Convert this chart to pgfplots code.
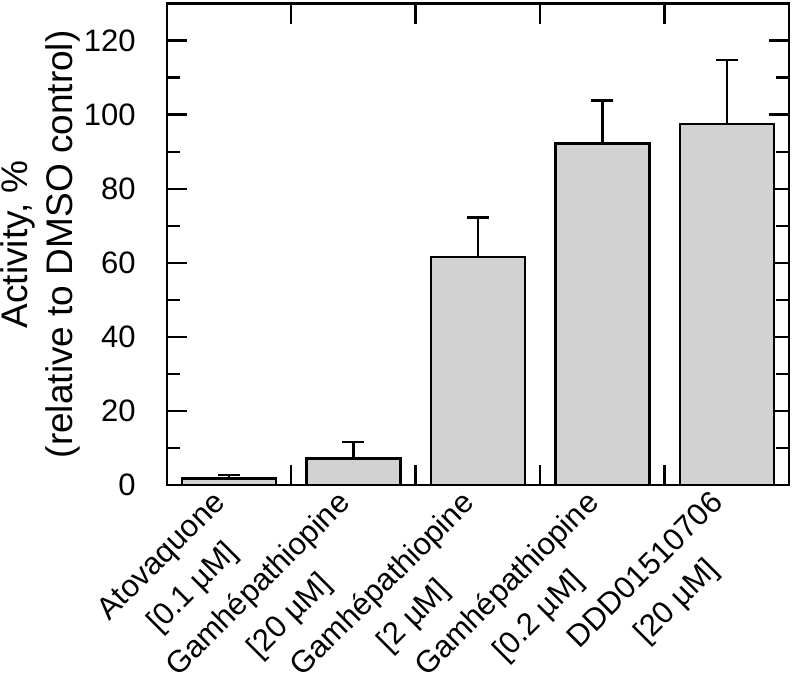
\documentclass[border=0pt]{standalone}
\usepackage{fontspec}
\setmainfont{Liberation Sans}
\usepackage{pgfplots}
\usetikzlibrary{calc}
\pgfplotsset{compat=1.18}

\definecolor{barfill}{RGB}{210,210,210}

\begin{document}
\begin{tikzpicture}
\begin{axis}[
  scale only axis,
  width=311pt, height=240.75pt,
  xmin=0.5, xmax=5.5,
  ymin=0, ymax=130,
  ybar, bar width=0.755,
  tick align=inside,
  axis line style={line width=1.2pt},
  every tick/.style={black, line width=1.2pt},
  major tick length=10pt,
  minor tick length=6.5pt,
  xtick={1.5,2.5,3.5,4.5},
  xticklabels={},
  extra x ticks={1,2,3,4,5},
  extra x tick labels={
    {Atovaquone\\{[0.1 µM]}},
    {Gamhépathiopine\\{[20 µM]}},
    {Gamhépathiopine\\{[2 µM]}},
    {Gamhépathiopine\\{[0.2 µM]}},
    {DDD01510706\\{[20 µM]}}},
  extra x tick style={
    major tick length=0pt,
    tick style={draw=none},
    xticklabel style={xshift=4pt, yshift=-14.5pt, rotate=45, anchor=east,
      align=center, inner sep=0pt, font=\fontsize{15.5}{22}\selectfont}},
  ytick={0,20,...,120},
  minor y tick num=1,
  /pgf/number format/assume math mode=true,
  yticklabel style={font=\fontsize{15.5}{19}\selectfont, xshift=-12pt},
  ylabel={Activity, \%\\(relative to DMSO control)},
  every axis y label/.style={at={(axis description cs:-0.2029,0.5)},
    rotate=90, anchor=center, align=center, inner sep=0pt,
    font=\fontsize{18.5}{22.5}\selectfont},
]
\addplot[
  fill=barfill, draw=black, line width=1.2pt,
  error bars/.cd, y dir=plus, y explicit,
  error bar style={line width=1.2pt, black},
  error mark options={rotate=90, mark size=5.5pt, line width=1.2pt, black}
] table[x=x, y=y, y error=e] {
x  y     e
1  1.8   0.9
2  7.2   4.4
3  61.6  10.6
4  92.2  11.6
5  97.5  17.3
};
\coordinate (bl) at (rel axis cs:0,0);
\coordinate (tr) at (rel axis cs:1,1);
\end{axis}
\pgfresetboundingbox
\path[use as bounding box] ($(bl)+(-83.35pt,-98pt)$) rectangle ($(tr)+(2pt,1.75pt)$);
\end{tikzpicture}
\end{document}
